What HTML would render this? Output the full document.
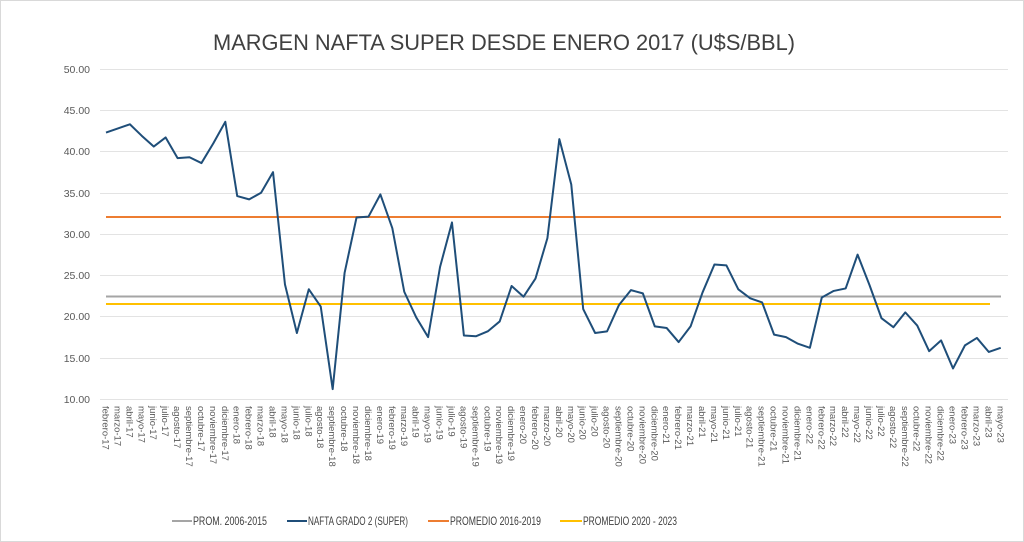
<!DOCTYPE html>
<html><head><meta charset="utf-8"><style>
html,body{margin:0;padding:0;background:#fff}
svg{display:block;font-family:"Liberation Sans",sans-serif}
</style></head><body>
<svg width="1024" height="542" viewBox="0 0 1024 542">
<rect x="0.5" y="0.5" width="1023" height="541" fill="#fff" stroke="#d9d9d9"/>
<text x="504" y="50" text-anchor="middle" font-size="22" fill="#404040" textLength="582" lengthAdjust="spacingAndGlyphs">MARGEN NAFTA SUPER DESDE ENERO 2017 (U$S/BBL)</text>
<g stroke="#e3e3e3" stroke-width="1">
<line x1="100" x2="1008" y1="69.5" y2="69.5"/><line x1="100" x2="1008" y1="110.5" y2="110.5"/><line x1="100" x2="1008" y1="151.5" y2="151.5"/><line x1="100" x2="1008" y1="193.5" y2="193.5"/><line x1="100" x2="1008" y1="234.5" y2="234.5"/><line x1="100" x2="1008" y1="275.5" y2="275.5"/><line x1="100" x2="1008" y1="316.5" y2="316.5"/><line x1="100" x2="1008" y1="358.5" y2="358.5"/><line x1="100" x2="1008" y1="399.5" y2="399.5"/>
</g>
<g font-size="10.5" fill="#595959" text-anchor="end">
<text x="90" y="73">50.00</text><text x="90" y="114">45.00</text><text x="90" y="155">40.00</text><text x="90" y="197">35.00</text><text x="90" y="238">30.00</text><text x="90" y="279">25.00</text><text x="90" y="320">20.00</text><text x="90" y="362">15.00</text><text x="90" y="403">10.00</text>
</g>
<line x1="106" x2="1001" y1="296.5" y2="296.5" stroke="#a5a5a5" stroke-width="2"/>
<line x1="106" x2="1001" y1="217" y2="217" stroke="#ed7d31" stroke-width="2"/>
<line x1="106" x2="990" y1="304" y2="304" stroke="#ffc000" stroke-width="2"/>
<polyline transform="translate(106,481.5) scale(11.93,-8.25)" vector-effect="non-scaling-stroke" fill="none" stroke="#1f4e79" stroke-width="2" stroke-linejoin="round"
points="0,42.3 1,42.8 2,43.3 3,41.9 4,40.6 5,41.7 6,39.2 7,39.3 8,38.6 9,41.0 10,43.6 11,34.6 12,34.2 13,35.0 14,37.5 15,23.9 16,18.0 17,23.3 18,21.2 19,11.2 20,25.3 21,32.0 22,32.1 23,34.8 24,30.7 25,23.0 26,19.9 27,17.5 28,26.0 29,31.4 30,17.7 31,17.6 32,18.2 33,19.4 34,23.7 35,22.4 36,24.6 37,29.5 38,41.5 39,36.0 40,20.9 41,18.0 42,18.2 43,21.4 44,23.2 45,22.8 46,18.8 47,18.6 48,16.9 49,18.8 50,22.9 51,26.3 52,26.2 53,23.3 54,22.2 55,21.7 56,17.8 57,17.5 58,16.7 59,16.2 60,22.3 61,23.1 62,23.4 63,27.5 64,23.8 65,19.8 66,18.7 67,20.5 68,18.9 69,15.8 70,17.1 71,13.7 72,16.5 73,17.4 74,15.7 75,16.2"/>
<g transform="translate(-3.5,406)" font-size="9.5" fill="#595959">
<text transform="translate(106,0) rotate(90)">febrero-17</text>
<text transform="translate(117.9,0) rotate(90)">marzo-17</text>
<text transform="translate(129.9,0) rotate(90)">abril-17</text>
<text transform="translate(141.8,0) rotate(90)">mayo-17</text>
<text transform="translate(153.7,0) rotate(90)">junio-17</text>
<text transform="translate(165.7,0) rotate(90)">julio-17</text>
<text transform="translate(177.6,0) rotate(90)">agosto-17</text>
<text transform="translate(189.5,0) rotate(90)">septiembre-17</text>
<text transform="translate(201.4,0) rotate(90)">octubre-17</text>
<text transform="translate(213.4,0) rotate(90)">noviembre-17</text>
<text transform="translate(225.3,0) rotate(90)">diciembre-17</text>
<text transform="translate(237.2,0) rotate(90)">enero-18</text>
<text transform="translate(249.2,0) rotate(90)">febrero-18</text>
<text transform="translate(261.1,0) rotate(90)">marzo-18</text>
<text transform="translate(273.0,0) rotate(90)">abril-18</text>
<text transform="translate(285.0,0) rotate(90)">mayo-18</text>
<text transform="translate(296.9,0) rotate(90)">junio-18</text>
<text transform="translate(308.8,0) rotate(90)">julio-18</text>
<text transform="translate(320.7,0) rotate(90)">agosto-18</text>
<text transform="translate(332.7,0) rotate(90)">septiembre-18</text>
<text transform="translate(344.6,0) rotate(90)">octubre-18</text>
<text transform="translate(356.5,0) rotate(90)">noviembre-18</text>
<text transform="translate(368.5,0) rotate(90)">diciembre-18</text>
<text transform="translate(380.4,0) rotate(90)">enero-19</text>
<text transform="translate(392.3,0) rotate(90)">febrero-19</text>
<text transform="translate(404.3,0) rotate(90)">marzo-19</text>
<text transform="translate(416.2,0) rotate(90)">abril-19</text>
<text transform="translate(428.1,0) rotate(90)">mayo-19</text>
<text transform="translate(440.0,0) rotate(90)">junio-19</text>
<text transform="translate(452.0,0) rotate(90)">julio-19</text>
<text transform="translate(463.9,0) rotate(90)">agosto-19</text>
<text transform="translate(475.8,0) rotate(90)">septiembre-19</text>
<text transform="translate(487.8,0) rotate(90)">octubre-19</text>
<text transform="translate(499.7,0) rotate(90)">noviembre-19</text>
<text transform="translate(511.6,0) rotate(90)">diciembre-19</text>
<text transform="translate(523.6,0) rotate(90)">enero-20</text>
<text transform="translate(535.5,0) rotate(90)">febrero-20</text>
<text transform="translate(547.4,0) rotate(90)">marzo-20</text>
<text transform="translate(559.3,0) rotate(90)">abril-20</text>
<text transform="translate(571.3,0) rotate(90)">mayo-20</text>
<text transform="translate(583.2,0) rotate(90)">junio-20</text>
<text transform="translate(595.1,0) rotate(90)">julio-20</text>
<text transform="translate(607.1,0) rotate(90)">agosto-20</text>
<text transform="translate(619.0,0) rotate(90)">septiembre-20</text>
<text transform="translate(630.9,0) rotate(90)">octubre-20</text>
<text transform="translate(642.9,0) rotate(90)">noviembre-20</text>
<text transform="translate(654.8,0) rotate(90)">diciembre-20</text>
<text transform="translate(666.7,0) rotate(90)">enero-21</text>
<text transform="translate(678.6,0) rotate(90)">febrero-21</text>
<text transform="translate(690.6,0) rotate(90)">marzo-21</text>
<text transform="translate(702.5,0) rotate(90)">abril-21</text>
<text transform="translate(714.4,0) rotate(90)">mayo-21</text>
<text transform="translate(726.4,0) rotate(90)">junio-21</text>
<text transform="translate(738.3,0) rotate(90)">julio-21</text>
<text transform="translate(750.2,0) rotate(90)">agosto-21</text>
<text transform="translate(762.2,0) rotate(90)">septiembre-21</text>
<text transform="translate(774.1,0) rotate(90)">octubre-21</text>
<text transform="translate(786.0,0) rotate(90)">noviembre-21</text>
<text transform="translate(797.9,0) rotate(90)">diciembre-21</text>
<text transform="translate(809.9,0) rotate(90)">enero-22</text>
<text transform="translate(821.8,0) rotate(90)">febrero-22</text>
<text transform="translate(833.7,0) rotate(90)">marzo-22</text>
<text transform="translate(845.7,0) rotate(90)">abril-22</text>
<text transform="translate(857.6,0) rotate(90)">mayo-22</text>
<text transform="translate(869.5,0) rotate(90)">junio-22</text>
<text transform="translate(881.5,0) rotate(90)">julio-22</text>
<text transform="translate(893.4,0) rotate(90)">agosto-22</text>
<text transform="translate(905.3,0) rotate(90)">septiembre-22</text>
<text transform="translate(917.2,0) rotate(90)">octubre-22</text>
<text transform="translate(929.2,0) rotate(90)">noviembre-22</text>
<text transform="translate(941.1,0) rotate(90)">diciembre-22</text>
<text transform="translate(953.0,0) rotate(90)">enero-23</text>
<text transform="translate(965.0,0) rotate(90)">febrero-23</text>
<text transform="translate(976.9,0) rotate(90)">marzo-23</text>
<text transform="translate(988.8,0) rotate(90)">abril-23</text>
<text transform="translate(1000.8,0) rotate(90)">mayo-23</text>
</g>
<g font-size="12" fill="#404040">
<line x1="172" x2="192" y1="521" y2="521" stroke="#a5a5a5" stroke-width="2"/><text x="193" y="525" textLength="74" lengthAdjust="spacingAndGlyphs">PROM. 2006-2015</text>
<line x1="287" x2="307" y1="521" y2="521" stroke="#1f4e79" stroke-width="2"/><text x="308" y="525" textLength="100" lengthAdjust="spacingAndGlyphs">NAFTA GRADO 2 (SUPER)</text>
<line x1="428" x2="449" y1="521" y2="521" stroke="#ed7d31" stroke-width="2"/><text x="450" y="525" textLength="91" lengthAdjust="spacingAndGlyphs">PROMEDIO 2016-2019</text>
<line x1="560" x2="582" y1="521" y2="521" stroke="#ffc000" stroke-width="2"/><text x="583" y="525" textLength="94" lengthAdjust="spacingAndGlyphs">PROMEDIO 2020 - 2023</text>
</g>
</svg>
</body></html>
